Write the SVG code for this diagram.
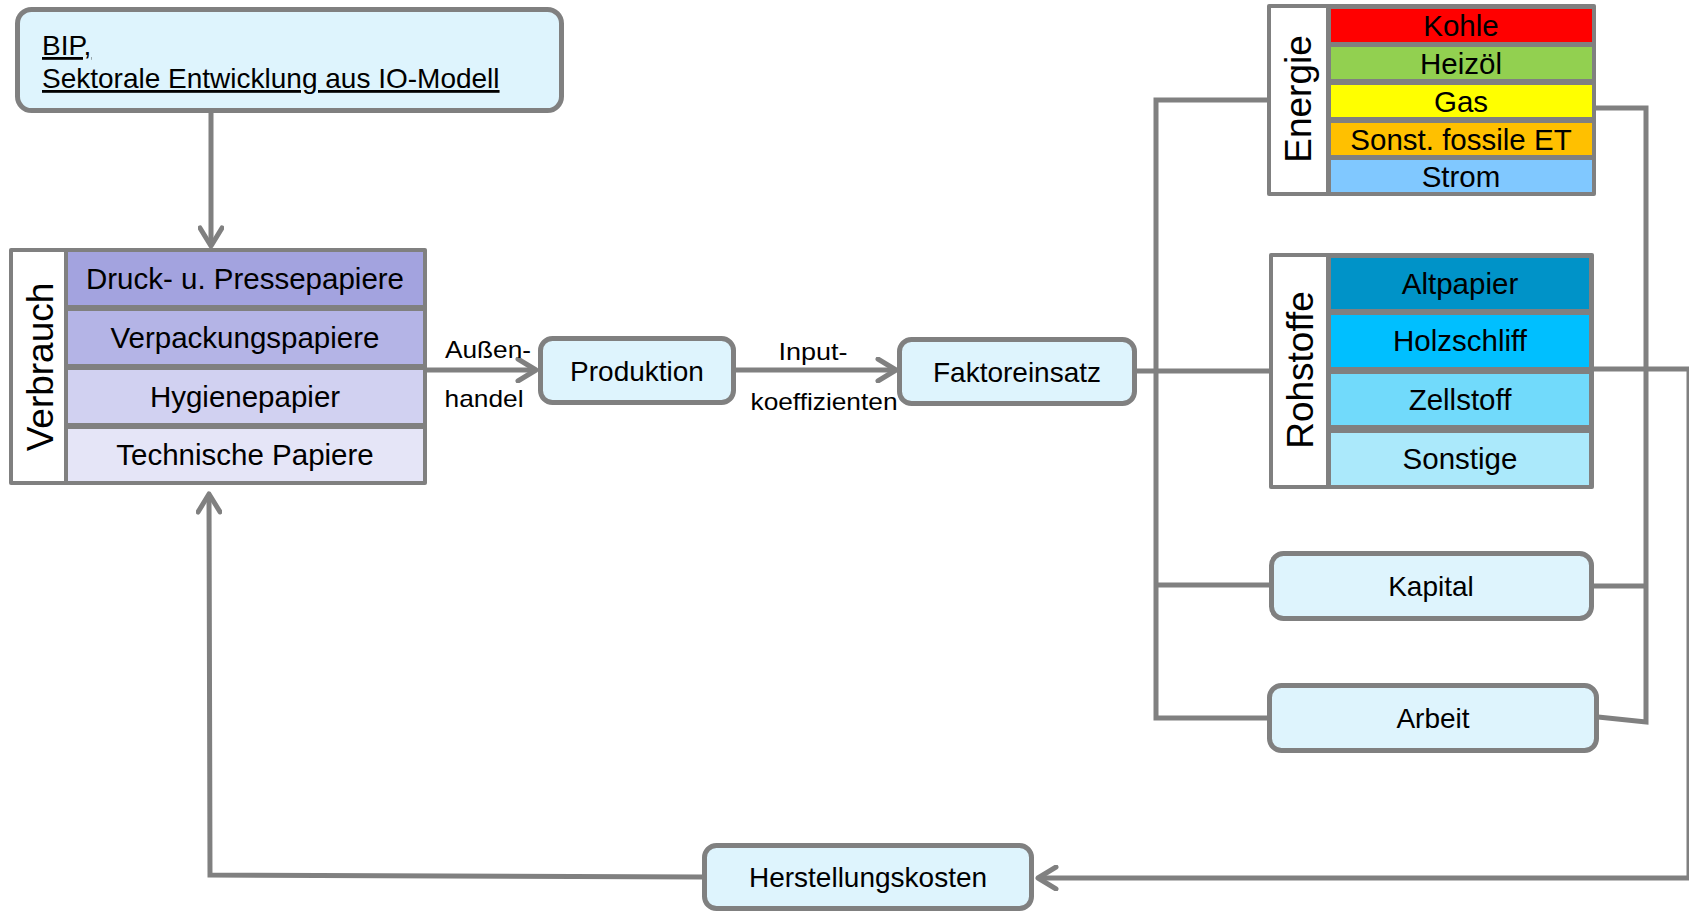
<svg xmlns="http://www.w3.org/2000/svg" width="1689" height="912" viewBox="0 0 1689 912">
<style>
.box{fill:#def4fd;stroke:#808080;stroke-width:5}
.frame{fill:#808080}
.lbl{fill:#ffffff}
.t{font-family:"Liberation Sans",Arial,sans-serif;font-size:28px;fill:#000;text-anchor:middle}
.r{font-family:"Liberation Sans",Arial,sans-serif;font-size:29.5px;fill:#000;text-anchor:middle}
.tv{font-family:"Liberation Sans",Arial,sans-serif;font-size:37px;fill:#000;text-anchor:middle}
.ts{font-family:"Liberation Sans",Arial,sans-serif;font-size:24px;fill:#000;text-anchor:middle}
.c{fill:none;stroke:#808080;stroke-width:5;stroke-linejoin:miter}
</style>
<defs>
<marker id="arr" viewBox="0 0 24 26" refX="21" refY="13" markerWidth="24" markerHeight="26" markerUnits="userSpaceOnUse" orient="auto">
<path d="M3,2 L21,13 L3,24" fill="none" stroke="#808080" stroke-width="5" stroke-linecap="round" stroke-linejoin="round"/>
</marker>
</defs>

<g id="connectors">
<path class="c" d="M211,113 L211,246" marker-end="url(#arr)"/>
<path class="c" d="M427,370 L536,370" marker-end="url(#arr)"/>
<path class="c" d="M736,370 L896,370" marker-end="url(#arr)"/>
<path class="c" d="M1137,371 L1270,371"/>
<path class="c" d="M1268,100 L1156,100 L1156,718 L1268,718"/>
<path class="c" d="M1156,585 L1270,585"/>
<path class="c" d="M1596,108 L1646,108 L1646,722 L1598,717"/>
<path class="c" d="M1593,586 L1646,586"/>
<path class="c" d="M1593,369 L1689,369"/>
<path class="c" d="M1689,369 L1689,878 L1038,878" marker-end="url(#arr)"/>
<path class="c" d="M703,877 L210,875 L209,494" marker-end="url(#arr)"/>
<g class="ts">
<text x="488" y="358" textLength="86" lengthAdjust="spacingAndGlyphs">Außen-</text>
<text x="484" y="407" textLength="79" lengthAdjust="spacingAndGlyphs">handel</text>
<text x="813" y="360" textLength="69" lengthAdjust="spacingAndGlyphs">Input-</text>
<text x="824" y="410" textLength="147" lengthAdjust="spacingAndGlyphs">koeffizienten</text>
</g>
</g>

<g id="bip">
<rect class="box" x="17.5" y="9.5" width="544" height="101" rx="14"/>
<text x="42" y="55" style="font-family:'Liberation Sans',Arial,sans-serif;font-size:28px" text-decoration="underline">BIP,</text>
<text x="42" y="88" style="font-family:'Liberation Sans',Arial,sans-serif;font-size:28px" text-decoration="underline">Sektorale Entwicklung aus IO-Modell</text>
</g>

<g id="verbrauch">
<rect class="frame" x="9" y="248" width="418" height="237" rx="2"/>
<rect class="lbl" x="13" y="252" width="51" height="229"/>
<text class="tv" transform="translate(53,367) rotate(-90)">Verbrauch</text>
<rect x="68" y="252" width="355" height="53" fill="#a3a3df"/>
<rect x="68" y="311" width="355" height="53" fill="#b4b4e6"/>
<rect x="68" y="370" width="355" height="53" fill="#d1d1f1"/>
<rect x="68" y="429" width="355" height="52" fill="#e5e5f7"/>
<text class="r" x="245" y="289">Druck- u. Pressepapiere</text>
<text class="r" x="245" y="348">Verpackungspapiere</text>
<text class="r" x="245" y="407">Hygienepapier</text>
<text class="r" x="245" y="465">Technische Papiere</text>
</g>

<g id="produktion">
<rect class="box" x="540.5" y="338.5" width="193" height="64" rx="12"/>
<text class="t" x="637" y="381">Produktion</text>
</g>

<g id="faktoreinsatz">
<rect class="box" x="899.5" y="339.5" width="235" height="64" rx="12"/>
<text class="t" x="1017" y="382">Faktoreinsatz</text>
</g>

<g id="energie">
<rect class="frame" x="1267" y="4" width="329" height="192" rx="2"/>
<rect class="lbl" x="1271" y="8" width="55" height="184"/>
<text class="tv" transform="translate(1311,99) rotate(-90)">Energie</text>
<rect x="1331" y="9" width="261" height="33" fill="#ff0000"/>
<rect x="1331" y="47" width="261" height="32" fill="#92d050"/>
<rect x="1331" y="85" width="261" height="32" fill="#ffff00"/>
<rect x="1331" y="123" width="261" height="32" fill="#ffc000"/>
<rect x="1331" y="160" width="261" height="32" fill="#80c8ff"/>
<text class="r" x="1461" y="36">Kohle</text>
<text class="r" x="1461" y="74">Heizöl</text>
<text class="r" x="1461" y="112">Gas</text>
<text class="r" x="1461" y="150">Sonst. fossile ET</text>
<text class="r" x="1461" y="187">Strom</text>
</g>

<g id="rohstoffe">
<rect class="frame" x="1269" y="253" width="325" height="236" rx="2"/>
<rect class="lbl" x="1273" y="257" width="53" height="228"/>
<text class="tv" transform="translate(1313,370) rotate(-90)">Rohstoffe</text>
<rect x="1331" y="258" width="258" height="51" fill="#0093c8"/>
<rect x="1331" y="315" width="258" height="52" fill="#00bfff"/>
<rect x="1331" y="374" width="258" height="51" fill="#71dafb"/>
<rect x="1331" y="433" width="258" height="52" fill="#abe9fb"/>
<text class="r" x="1460" y="294">Altpapier</text>
<text class="r" x="1460" y="351">Holzschliff</text>
<text class="r" x="1460" y="410">Zellstoff</text>
<text class="r" x="1460" y="469">Sonstige</text>
</g>

<g id="kapital">
<rect class="box" x="1271.5" y="553.5" width="320" height="65" rx="12"/>
<text class="t" x="1431" y="596">Kapital</text>
</g>

<g id="arbeit">
<rect class="box" x="1269.5" y="685.5" width="327" height="65" rx="12"/>
<text class="t" x="1433" y="728">Arbeit</text>
</g>

<g id="herstellungskosten">
<rect class="box" x="704.5" y="845.5" width="327" height="63" rx="12"/>
<text class="t" x="868" y="887">Herstellungskosten</text>
</g>
</svg>
